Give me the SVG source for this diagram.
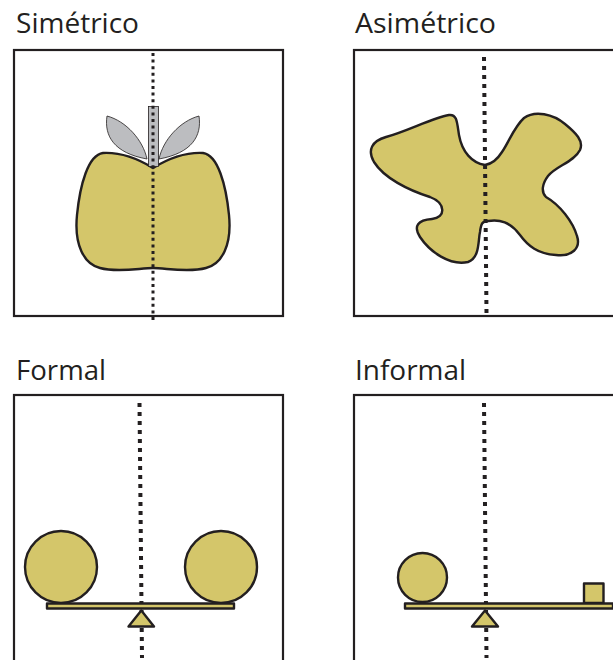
<svg xmlns="http://www.w3.org/2000/svg" width="613" height="660" viewBox="0 0 613 660">
  <style>
    .title { font-family: "Open Sans", "Liberation Sans", sans-serif; font-size: 28px; fill: #231F20; }
    .frame { fill: none; stroke: #231F20; stroke-width: 2.2; }
    .shape { fill: #D4C66A; stroke: #231F20; stroke-width: 2.4; stroke-linejoin: round; }
    .leaf { fill: #BCBDC0; stroke: #231F20; stroke-width: 0.8; }
    .axis { fill: none; stroke: #231F20; stroke-width: 4; stroke-dasharray: 4 5; }
    .axis-fine { fill: none; stroke: #231F20; stroke-width: 3; stroke-dasharray: 3 3.6; }
  </style>
  <rect width="613" height="660" fill="#FFFFFF"/>

  <!-- Symmetric: apple -->
  <g id="simetrico">
    <text class="title" x="16" y="33" textLength="123" lengthAdjust="spacingAndGlyphs">Simétrico</text>
    <rect class="frame" x="14" y="50" width="269" height="266"/>
    <path class="leaf" d="M147,159 C143,140 126,121 107,116 C104,136 114,153 147,159 Z"/>
    <path class="leaf" d="M159,159 C163,140 180,121 199,116 C202,136 192,153 159,159 Z"/>
    <path class="shape" d="M153,168 C140,160 122,152 103,153 C88,155 80,185 77,215 C74,245 84,264 100,268 C118,273 140,268 153,268 C166,268 188,273 206,268 C222,264 232,245 229,215 C226,185 218,155 203,153 C184,152 166,160 153,168 Z"/>
    <rect class="leaf" x="148.5" y="106.5" width="10" height="60"/>
    <line class="axis-fine" x1="153" y1="53" x2="153" y2="323"/>
  </g>

  <!-- Asymmetric: free-form blob -->
  <g id="asimetrico">
    <text class="title" x="355" y="33" textLength="141" lengthAdjust="spacingAndGlyphs">Asimétrico</text>
    <rect class="frame" x="354" y="50" width="300" height="266"/>
    <path class="shape" d="M485,165 C472,163 462,152 459,135 C457,122 457,114 449,115 C432,118 408,131 386,137 C372,141 367,150 374,162 C384,178 408,190 430,197 C446,203 446,218 432,219 C418,220 413,226 420,237 C430,252 450,266 468,262 C480,258 478,240 480,232 C481,224 482,221 488,221 C500,219 510,222 520,235 C528,246 538,254 556,255 C572,257 581,248 577,236 C573,222 560,205 546,197 C541,192 542,184 548,176 C556,166 574,162 580,150 C584,141 576,133 565,124 C553,114 535,110 524,118 C514,127 509,142 502,152 C497,160 492,164 485,165 Z"/>
    <line class="axis" x1="484" y1="57" x2="486.5" y2="313"/>
  </g>

  <!-- Formal balance: equal weights -->
  <g id="formal">
    <text class="title" x="16" y="380" textLength="90" lengthAdjust="spacingAndGlyphs">Formal</text>
    <rect class="frame" x="14" y="395" width="269" height="300"/>
    <line class="axis" x1="139.5" y1="403" x2="142" y2="658"/>
    <circle class="shape" cx="61" cy="567" r="36"/>
    <circle class="shape" cx="221" cy="567" r="36"/>
    <rect class="shape" x="47" y="603.5" width="187" height="5" stroke-width="2"/>
    <polygon class="shape" points="141.3,610.5 128.5,626.5 154,626.5" stroke-width="2"/>
  </g>

  <!-- Informal balance: unequal weights -->
  <g id="informal">
    <text class="title" x="355" y="380" textLength="111" lengthAdjust="spacingAndGlyphs">Informal</text>
    <rect class="frame" x="354" y="395" width="300" height="300"/>
    <line class="axis" x1="484" y1="403" x2="486.5" y2="658"/>
    <circle class="shape" cx="422.5" cy="577.5" r="24.5"/>
    <rect class="shape" x="584" y="583.5" width="19.5" height="19.5" stroke-width="2.2"/>
    <rect class="shape" x="405" y="603.5" width="208" height="5" stroke-width="2"/>
    <polygon class="shape" points="485,610.5 472,626.5 498,626.5" stroke-width="2"/>
  </g>
</svg>
